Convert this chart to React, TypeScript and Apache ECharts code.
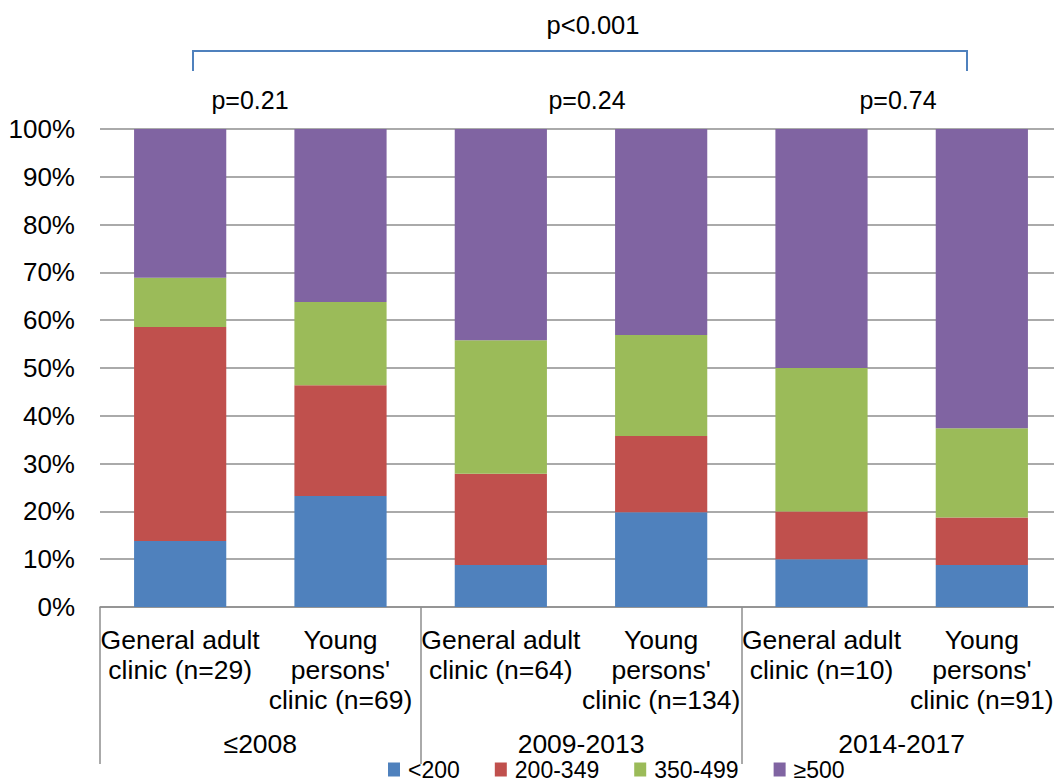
import React, { useEffect, useRef } from "react";
import * as echarts from "echarts";

// Clinic cohorts (bottom level) and their time periods (top level)
const clinics = [
  "General adult\nclinic (n=29)",
  "Young\npersons'\nclinic (n=69)",
  "General adult\nclinic (n=64)",
  "Young\npersons'\nclinic (n=134)",
  "General adult\nclinic (n=10)",
  "Young\npersons'\nclinic (n=91)",
];
const periods = ["≤2008", "2009-2013", "2014-2017"];

// CD4 count bands, % of patients in each cohort
const bandNames = ["<200", "200-349", "350-499", "≥500"];
const bandLt200 = [13.8, 23.2, 8.8, 19.8, 10.0, 8.8];
const band200to349 = [44.8, 23.2, 19.1, 16.0, 10.0, 9.9];
const band350to499 = [10.3, 17.4, 27.9, 21.1, 30.0, 18.7];
const bandGe500 = [31.1, 36.2, 44.2, 43.1, 50.0, 62.6];
const bandColors = ["#4F81BD", "#C0504D", "#9BBB59", "#8064A2"];

// Significance annotations
const periodPValues = ["p=0.21", "p=0.24", "p=0.74"];
const overallPValue = "p<0.001";

const FONT = "'Liberation Sans', Arial, sans-serif";
const GRID_COLOR = "#8E8E8E";

export default function App() {
  const ref = useRef<HTMLDivElement>(null);

  useEffect(() => {
    if (!ref.current) return;
    const chart = echarts.init(ref.current, undefined, { renderer: "svg" });
    const bands = [bandLt200, band200to349, band350to499, bandGe500];

    chart.setOption({
      animation: false,
      backgroundColor: "#ffffff",
      textStyle: { fontFamily: FONT, color: "#000" },
      // plot area runs slightly past the right edge of the visible frame
      grid: { left: 100, top: 129, width: 962, height: 478, containLabel: false },
      legend: {
        data: bandNames,
        left: 388,
        top: 758,
        padding: 0,
        icon: "rect",
        itemWidth: 12,
        itemHeight: 14,
        itemGap: 35,
        textStyle: {
          fontFamily: FONT,
          fontSize: 23,
          lineHeight: 23,
          color: "#000",
          padding: [0, 0, 0, 3],
        },
      },
      xAxis: [
        {
          type: "category",
          data: clinics,
          position: "bottom",
          axisLine: { show: true, lineStyle: { color: GRID_COLOR, width: 1.5 } },
          axisTick: { show: false },
          axisLabel: {
            interval: 0,
            fontFamily: FONT,
            fontSize: 26.5,
            lineHeight: 30,
            margin: 18,
            color: "#000",
          },
        },
        {
          // period groups: boundary ticks act as the long separators
          type: "category",
          data: periods,
          position: "bottom",
          axisLine: { show: false },
          axisTick: {
            show: true,
            length: 157,
            lineStyle: { color: GRID_COLOR, width: 1.5 },
          },
          axisLabel: {
            interval: 0,
            fontFamily: FONT,
            fontSize: 26.5,
            lineHeight: 26,
            margin: 124,
            color: "#000",
          },
        },
      ],
      yAxis: {
        type: "value",
        min: 0,
        max: 100,
        interval: 10,
        axisLine: { show: false },
        axisTick: { show: false },
        axisLabel: {
          formatter: "{value}%",
          fontFamily: FONT,
          fontSize: 26,
          margin: 25,
          color: "#000",
        },
        splitLine: { lineStyle: { color: GRID_COLOR, width: 1.5 } },
      },
      series: bands.map((values, i) => ({
        name: bandNames[i],
        type: "bar",
        stack: "total",
        xAxisIndex: 0,
        barWidth: "57.5%",
        itemStyle: { color: bandColors[i] },
        data: values,
      })),
      graphic: [
        {
          type: "polyline",
          shape: {
            points: [
              [193, 71],
              [193, 51],
              [967, 51],
              [967, 71],
            ],
          },
          style: { stroke: "#4F81BD", lineWidth: 2, fill: "none" },
        },
        {
          type: "text",
          x: 593,
          y: 25,
          style: {
            text: overallPValue,
            font: `25.5px ${FONT}`,
            fill: "#000",
            align: "center",
            verticalAlign: "middle",
          },
        },
        ...periodPValues.map((t, i) => ({
          type: "text",
          x: [250, 587, 898][i],
          y: 100,
          style: {
            text: t,
            font: `25px ${FONT}`,
            fill: "#000",
            align: "center",
            verticalAlign: "middle",
          },
        })),
      ],
    });

    return () => chart.dispose();
  }, []);

  return (
    <div
      style={{
        position: "fixed",
        left: 0,
        top: 0,
        width: 1054,
        height: 782,
        overflow: "hidden",
        background: "#fff",
      }}
    >
      <div ref={ref} style={{ width: 1070, height: 782 }} />
    </div>
  );
}
